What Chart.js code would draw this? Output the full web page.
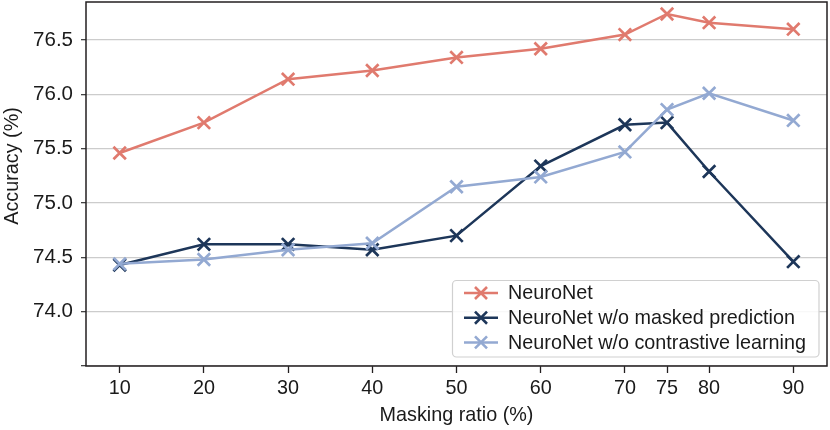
<!DOCTYPE html>
<html>
<head>
<meta charset="utf-8">
<script src="https://cdn.jsdelivr.net/npm/chart.js@4.4.1/dist/chart.umd.min.js"></script>
<style>
html,body{margin:0;padding:0;background:#fff;}
canvas{display:block;}
</style>
</head>
<body>
<canvas id="c" width="830" height="430"></canvas>
<script>
const maskingRatios = [10, 20, 30, 40, 50, 60, 70, 75, 80, 90];
const neuroNet = [75.46, 75.74, 76.14, 76.22, 76.34, 76.42, 76.55, 76.74, 76.66, 76.60];
const woMaskedPrediction = [74.43, 74.62, 74.62, 74.57, 74.70, 75.34, 75.72, 75.74, 75.29, 74.46];
const woContrastiveLearning = [74.44, 74.48, 74.57, 74.63, 75.15, 75.24, 75.47, 75.86, 76.01, 75.76];
const seriesNames = ['NeuroNet', 'NeuroNet w/o masked prediction', 'NeuroNet w/o contrastive learning'];
const yTickValues = [73.5, 74.0, 74.5, 75.0, 75.5, 76.0, 76.5];
const xTickValues = [10, 20, 30, 40, 50, 60, 70, 75, 80, 90];
const xTitle = 'Masking ratio (%)';
const yTitle = 'Accuracy (%)';

const FONT = '"Liberation Sans", Arial, Helvetica, sans-serif';
const colors = ['#e07a6e', '#1d3659', '#93a9d2'];

function pts(vals){ return maskingRatios.map((x,i)=>({x:x, y:vals[i]})); }

function ds(label, vals, color, order){
  return {
    label: label, data: pts(vals), borderColor: color, backgroundColor: color,
    borderWidth: 2.5, pointStyle: 'crossRot', pointRadius: 8.8, pointBorderWidth: 2.7,
    pointBorderColor: color, pointHoverRadius: 8.8, tension: 0, order: order
  };
}

const framePlugin = {
  id: 'frame',
  afterDraw(chart){
    const {ctx, chartArea: a} = chart;
    ctx.save();
    ctx.strokeStyle = '#231f20';
    ctx.lineWidth = 1.5;
    ctx.strokeRect(a.left, a.top, a.right - a.left, a.bottom - a.top);
    // y title
    ctx.fillStyle = '#1a1a1a';
    ctx.font = '19.8px ' + FONT;
    ctx.textAlign = 'center';
    ctx.textBaseline = 'middle';
    ctx.translate(12.5, 166);
    ctx.rotate(-Math.PI/2);
    ctx.fillText(yTitle, 0, 0);
    ctx.restore();

    // legend
    ctx.save();
    const bx = 452.5, by = 280.5, bw = 366.5, bh = 76.5, r = 4;
    ctx.beginPath();
    ctx.moveTo(bx + r, by);
    ctx.arcTo(bx + bw, by, bx + bw, by + bh, r);
    ctx.arcTo(bx + bw, by + bh, bx, by + bh, r);
    ctx.arcTo(bx, by + bh, bx, by, r);
    ctx.arcTo(bx, by, bx + bw, by, r);
    ctx.closePath();
    ctx.fillStyle = 'rgba(255,255,255,0.85)';
    ctx.fill();
    ctx.strokeStyle = '#d0d0d0';
    ctx.lineWidth = 1.2;
    ctx.stroke();
    chart.data.datasets.forEach((d, i) => {
      const y = 293 + i * 24.7;
      ctx.strokeStyle = d.borderColor;
      ctx.lineWidth = 2.5;
      ctx.beginPath();
      ctx.moveTo(464, y); ctx.lineTo(498, y);
      ctx.stroke();
      const m = 8.5 * Math.SQRT1_2, cx = 481;
      ctx.lineWidth = 2.6;
      ctx.beginPath();
      ctx.moveTo(cx - m, y - m); ctx.lineTo(cx + m, y + m);
      ctx.moveTo(cx - m, y + m); ctx.lineTo(cx + m, y - m);
      ctx.stroke();
      ctx.fillStyle = '#1a1a1a';
      ctx.font = '19.8px ' + FONT;
      ctx.textAlign = 'left';
      ctx.textBaseline = 'middle';
      ctx.fillText(d.label, 508, y + 1);
    });
    ctx.restore();
  }
};

new Chart(document.getElementById('c'), {
  type: 'line',
  data: {
    datasets: [
      ds(seriesNames[0], neuroNet, colors[0], 2),
      ds(seriesNames[1], woMaskedPrediction, colors[1], 1),
      ds(seriesNames[2], woContrastiveLearning, colors[2], 0)
    ]
  },
  options: {
    responsive: false,
    devicePixelRatio: 1,
    animation: false,
    layout: { autoPadding: false, padding: { top: 2, right: 3, left: 0, bottom: 0 } },
    plugins: { legend: { display: false }, tooltip: { enabled: false } },
    scales: {
      x: {
        type: 'linear', min: 6, max: 94,
        afterBuildTicks(s){ s.ticks = xTickValues.map(v => ({value: v})); },
        afterFit(s){ s.height = 64; s.paddingLeft = 0; s.paddingRight = 0; },
        grid: { display: true, drawOnChartArea: false, drawTicks: true, tickLength: 7, tickColor: '#231f20', tickWidth: 1.3 },
        border: { display: false },
        ticks: { font: { family: FONT, size: 19.8 }, color: '#1a1a1a', padding: 4, maxRotation: 0, autoSkip: false,
                 callback: v => String(v) },
        title: { display: true, text: xTitle, font: { family: FONT, size: 19.8 }, color: '#1a1a1a', padding: { top: 0, bottom: 3 } }
      },
      y: {
        type: 'linear', min: 73.5, max: 76.85,
        afterBuildTicks(s){ s.ticks = yTickValues.map(v => ({value: v})); },
        afterFit(s){ s.width = 86; s.paddingTop = 0; s.paddingBottom = 0; },
        grid: { color: '#cccccc', lineWidth: 1.3, drawTicks: true, tickLength: 5, tickColor: '#444444', tickWidth: 1.3 },
        border: { display: false },
        ticks: { font: { family: FONT, size: 20.5 }, color: '#1a1a1a', padding: 8, autoSkip: false,
                 callback: v => (Math.abs(v - 73.5) < 1e-6 ? '' : Number(v).toFixed(1)) },
        title: { display: false }
      }
    }
  },
  plugins: [framePlugin]
});
</script>
</body>
</html>
